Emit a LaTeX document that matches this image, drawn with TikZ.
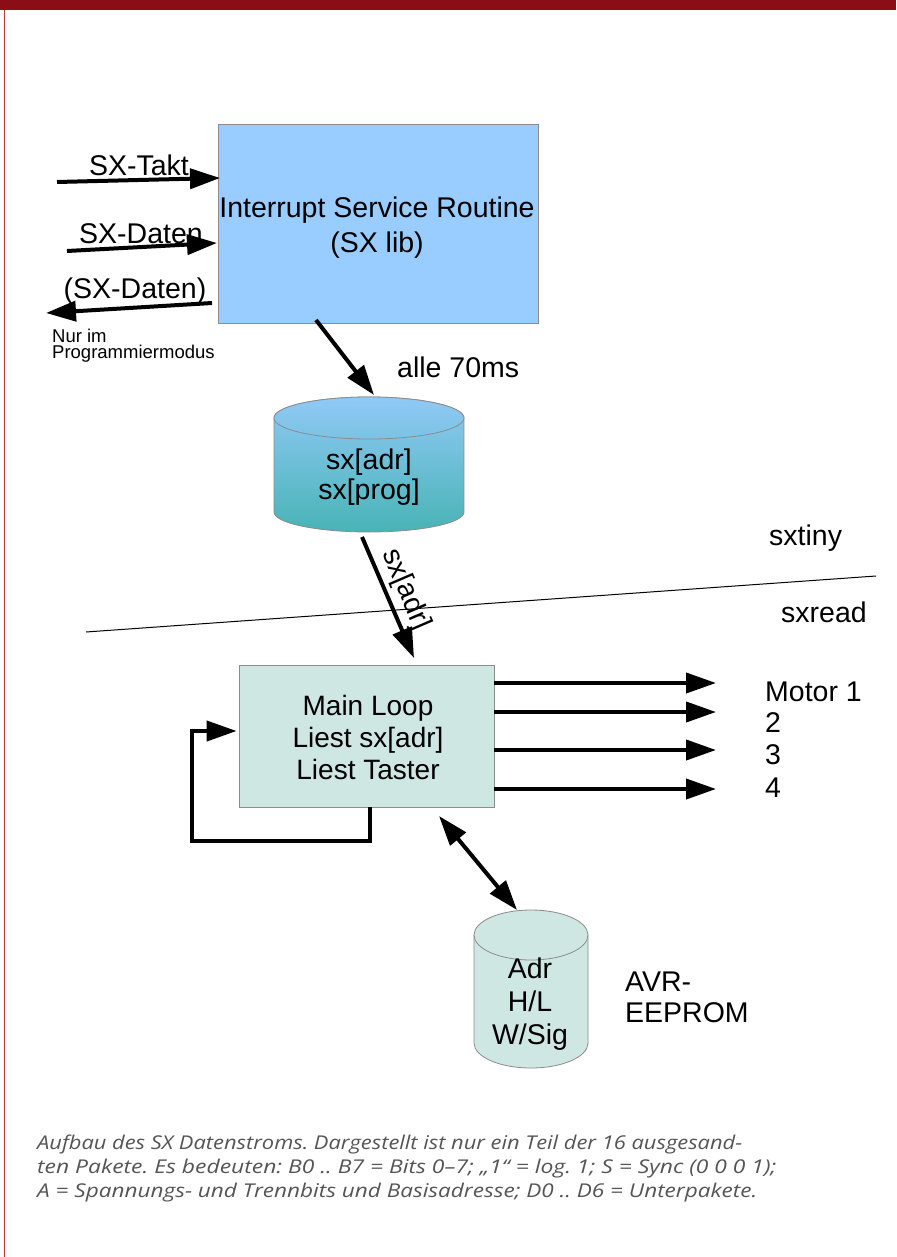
\documentclass[tikz,border=0pt]{standalone}
\usepackage{fontspec}
\usepackage{graphicx}
\setmainfont{Liberation Sans}
\newfontfamily\capfont{Open Sans}
\usetikzlibrary{arrows.meta}
\frenchspacing
\definecolor{barred}{HTML}{8B0E16}
\definecolor{edgered}{HTML}{B8373D}
\definecolor{isrblue}{HTML}{99CCFF}
\definecolor{mainfill}{HTML}{CFE7E3}
\definecolor{boxedge}{HTML}{8C8C8C}
\definecolor{captiongray}{HTML}{555555}
\definecolor{cyltop}{HTML}{90C9F6}
\definecolor{cylbot}{HTML}{48B4B6}
\newcommand{\capline}[2]{\resizebox{#1pt}{\height}{#2}}
\tikzset{
  arr/.style={line width=4pt,-{Triangle[length=30pt,width=20pt]}},
  darr/.style={line width=4pt,{Triangle[length=30pt,width=20pt]}-{Triangle[length=30pt,width=20pt]}},
  bigtext/.style={font=\fontsize{28.5}{32}\selectfont, inner sep=0pt, align=center},
  smalltext/.style={font=\fontsize{18.5}{18}\selectfont, inner sep=0pt, align=left, anchor=west},
  captext/.style={font=\capfont\itshape\fontsize{19}{22}\selectfont\frenchspacing, text=captiongray, inner sep=0pt, anchor=base west},
  cyledge/.style={draw=boxedge, line width=0.8pt}
}
\begin{document}
\begin{tikzpicture}[x=1pt,y=-1pt]
\useasboundingbox (0,0) rectangle (896,1257);
\fill[white] (0,0) rectangle (896,1257);
% frame
\fill[barred] (0,0) rectangle (896,10);
\draw[edgered, line width=1.6pt] (4.5,10) -- (4.5,1257);

% ISR box
\node[draw=boxedge, fill=isrblue, line width=0.8pt, minimum width=320pt, minimum height=199pt, inner sep=0pt] (isr) at (378,223.5) {};
\node[bigtext, font=\fontsize{28.5}{35}\selectfont] (isrtext) at (377,228) {Interrupt Service Routine\\(SX lib)};

% inputs
\coordinate (takt0) at (57,182);
\coordinate (takt1) at (220,178);
\draw[arr] (takt0) -- (takt1);
\node[bigtext] (taktl) at (139,165) {SX-Takt};
\coordinate (dat0) at (67,251);
\coordinate (dat1) at (217,243);
\draw[arr] (dat0) -- (dat1);
\node[bigtext] (datl) at (141,234) {SX-Daten};
\coordinate (out0) at (212,303);
\coordinate (out1) at (46,313);
\draw[arr] (out0) -- (out1);
\node[bigtext] (outl) at (135,291) {(SX-Daten)};
\node[smalltext] (nur) at (52,336) {Nur im};
\node[smalltext] (prog) at (52,354) {Programmiermodus};

% arrow to cylinder 1
\coordinate (c1a) at (316,320);
\coordinate (c1b) at (374,395);
\draw[arr] (c1a) -- (c1b);
\node[bigtext, anchor=west] (alle) at (397,367) {alle 70ms};

% cylinder 1
\shade[top color=cyltop, bottom color=cylbot, cyledge]
  (274,418) -- (274,512) arc[start angle=180, end angle=360, x radius=95pt, y radius=20pt]
  -- (464,418) arc[start angle=0, end angle=180, x radius=95pt, y radius=21pt] -- cycle;
\shade[top color=cyltop, bottom color=cyltop!70!cylbot, cyledge] (369,418) ellipse[x radius=95pt, y radius=21pt];
\node[bigtext, font=\fontsize{28.5}{30}\selectfont] (cyl1) at (369,477) {sx[adr]\\sx[prog]};

% sx[adr] arrow
\coordinate (s0) at (362,537);
\coordinate (s1) at (414,658);
\draw[arr] (s0) -- node[sloped, above=4pt, pos=0.5, font=\fontsize{28.5}{32}\selectfont, inner sep=0pt] (sxl) {sx[adr]} (s1);

% divider
\coordinate (d0) at (86,632);
\coordinate (d1) at (876,576);
\draw[line width=1pt] (d0) -- (d1);
\node[bigtext, anchor=west] (tiny) at (769,538) {sxtiny};
\node[bigtext, anchor=west] (read) at (781,612) {sxread};

% main loop
\node[draw=boxedge, fill=mainfill, line width=0.8pt, minimum width=255pt, minimum height=142pt, inner sep=0pt] (main) at (366.5,736) {};
\node[bigtext, font=\fontsize{28}{32}\selectfont] (maintext) at (368,737) {Main Loop\\Liest sx[adr]\\Liest Taster};

% outputs
\coordinate (m1) at (716,683);
\coordinate (m2) at (716,712);
\coordinate (m3) at (716,750);
\coordinate (m4) at (716,789);
\draw[arr] (main.east |- m1) -- (m1);
\draw[arr] (main.east |- m2) -- (m2);
\draw[arr] (main.east |- m3) -- (m3);
\draw[arr] (main.east |- m4) -- (m4);
\node[bigtext, anchor=west] (mot1) at (765,692) {Motor 1};
\node[bigtext, anchor=west] (mot2) at (765,723) {2};
\node[bigtext, anchor=west] (mot3) at (765,755) {3};
\node[bigtext, anchor=west] (mot4) at (765,788) {4};

% loop
\coordinate (lp1) at (370,841);
\coordinate (lp2) at (192,841);
\coordinate (lp3) at (192,731);
\draw[arr, line join=miter] (main.south -| lp1) -- (lp1) -- (lp2) -- (lp3) -- ([xshift=-2pt]main.west |- lp3);

% double arrow to EEPROM
\coordinate (e0) at (439,816);
\coordinate (e1) at (517,910);
\draw[darr] (e0) -- (e1);

% EEPROM cylinder
\fill[mainfill] (474,935) -- (474,1043) arc[start angle=180, end angle=360, x radius=57pt, y radius=25pt]
  -- (588,935) arc[start angle=0, end angle=180, x radius=57pt, y radius=25pt] -- cycle;
\draw[cyledge] (474,935) -- (474,1043) arc[start angle=180, end angle=360, x radius=57pt, y radius=25pt] -- (588,935);
\draw[cyledge, fill=mainfill] (531,935) ellipse[x radius=57pt, y radius=25pt];
\node[bigtext, font=\fontsize{28.5}{33}\selectfont] (eep) at (530,1004) {Adr\\H/L\\W/Sig};
\node[bigtext, anchor=west, align=left, font=\fontsize{28.5}{31}\selectfont] (avr) at (625,997) {AVR-\\EEPROM};

% caption
\node[captext] (cap1) at (37,1149) {\capline{705}{Aufbau des SX Datenstroms. Dargestellt ist nur ein Teil der 16 ausgesand-}};
\node[captext] (cap2) at (37,1173) {\capline{739}{ten Pakete. Es bedeuten: B0 .. B7 = Bits 0–7; „1“ = log. 1; S = Sync (0 0 0 1);}};
\node[captext] (cap3) at (37,1197) {\capline{720}{A = Spannungs- und Trennbits und Basisadresse; D0 .. D6 = Unterpakete.}};
\end{tikzpicture}
\end{document}
